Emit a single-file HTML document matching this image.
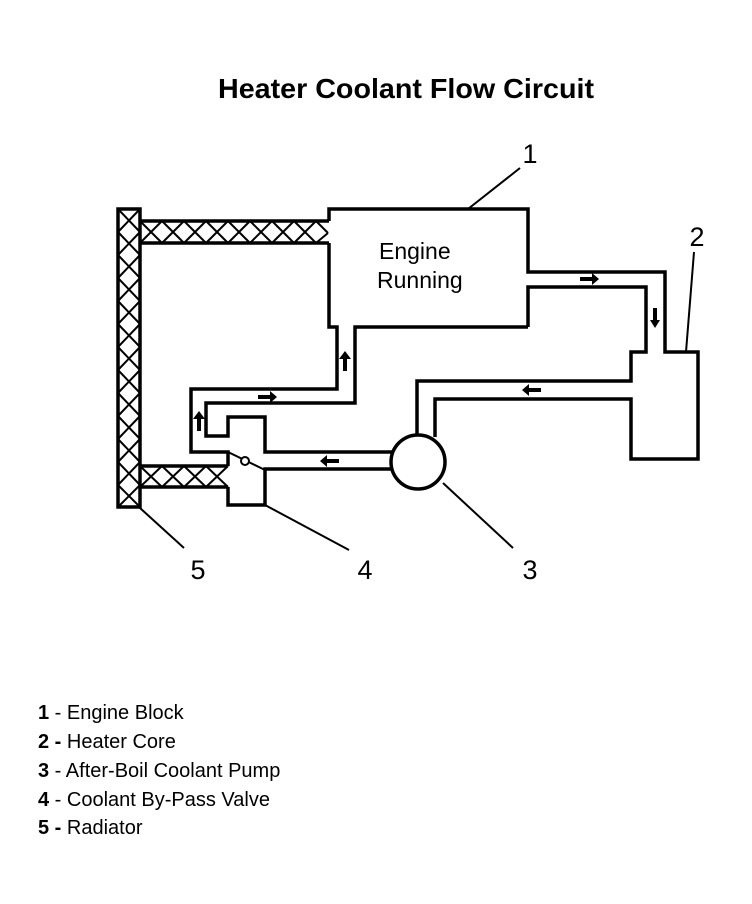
<!DOCTYPE html>
<html><head><meta charset="utf-8"><style>
body{margin:0;background:#fff}
svg{display:block}
text{font-family:"Liberation Sans",Arial,sans-serif;fill:#000}
</style></head><body>
<svg width="752" height="904" viewBox="0 0 752 904" xmlns="http://www.w3.org/2000/svg">
<text x="406" y="98" font-size="28" font-weight="bold" text-anchor="middle" textLength="376" lengthAdjust="spacingAndGlyphs">Heater Coolant Flow Circuit</text>
<g fill="none" stroke="#000" stroke-width="3.5" stroke-linejoin="miter">
<!-- radiator -->
<rect x="118" y="209" width="22" height="298"/>
<path d="M118,209 L140,232 M140,209 L118,232 M118,232 L140,255 M140,232 L118,255 M118,255 L140,278 M140,255 L118,278 M118,278 L140,301 M140,278 L118,301 M118,301 L140,324 M140,301 L118,324 M118,324 L140,347 M140,324 L118,347 M118,347 L140,370 M140,347 L118,370 M118,370 L140,393 M140,370 L118,393 M118,393 L140,416 M140,393 L118,416 M118,416 L140,439 M140,416 L118,439 M118,439 L140,462 M140,439 L118,462 M118,462 L140,485 M140,462 L118,485 M118,485 L140,507 M140,485 L118,507" stroke-width="2"/>
<!-- top hose -->
<path d="M140,221 H329 M140,243 H329"/>
<path d="M140,221 L162,243 M162,221 L140,243 M162,221 L184,243 M184,221 L162,243 M184,221 L206,243 M206,221 L184,243 M206,221 L228,243 M228,221 L206,243 M228,221 L250,243 M250,221 L228,243 M250,221 L272,243 M272,221 L250,243 M272,221 L294,243 M294,221 L272,243 M294,221 L316,243 M316,221 L294,243 M316,221 L328,233 M328,233 L316,243" stroke-width="2"/>
<!-- lower hose -->
<path d="M140,466 H228 M140,487 H228"/>
<path d="M140,466 L162,487 M162,466 L140,487 M162,466 L184,487 M184,466 L162,487 M184,466 L206,487 M206,466 L184,487 M206,466 L228,487 M228,466 L206,487" stroke-width="2"/>
<!-- engine block outline + outer pipe to heater -->
<path d="M329,221 V209 H528 V272 H665 V352 H698 V459 H631 V399 H435 V437"/>
<!-- inner pipe from engine to heater -->
<path d="M528,327 V287 H646 V352 H631 V381 H417 V437"/>
<!-- engine left/bottom & bypass pipes -->
<path d="M329,243 V327 H337 V389 H191 V452 H228 V466"/>
<path d="M528,327 H355 V403 H206 V436 H228 V417 H265 V452 H392"/>
<path d="M228,487 V505 H265 V469 H392"/>
<circle cx="418" cy="462" r="27" fill="#fff"/>
<path d="M228,452 L265,470" stroke-width="2"/>
<circle cx="245" cy="461" r="4" stroke-width="2" fill="#fff"/>
<!-- leader lines -->
<path d="M520,168 L468,209 M694,252 L686,352 M443,483 L513,548 M265,505 L349,550 M140,508 L184,548" stroke-width="2"/>
</g>
<g fill="#000">
<polygon points="258,395 270,395 270,391 277,397 270,403 270,399 258,399"/>
<polygon points="580,277 592,277 592,273 599,279 592,285 592,281 580,281"/>
<polygon points="343,371 343,359 339,359 345,351 351,359 347,359 347,371"/>
<polygon points="197,431 197,419 193,419 199,411 205,419 201,419 201,431"/>
<polygon points="339,459 327,459 327,455 320,461 327,467 327,463 339,463"/>
<polygon points="541,388 529,388 529,384 522,390 529,396 529,392 541,392"/>
<polygon points="653,308 653,320 650,320 655,328 660,320 657,320 657,308"/>
</g>
<text x="379" y="259" font-size="23">Engine</text>
<text x="377" y="288" font-size="23">Running</text>
<text x="530" y="163" font-size="27" text-anchor="middle">1</text>
<text x="697" y="246" font-size="27" text-anchor="middle">2</text>
<text x="530" y="579" font-size="27" text-anchor="middle">3</text>
<text x="365" y="579" font-size="27" text-anchor="middle">4</text>
<text x="198" y="579" font-size="27" text-anchor="middle">5</text>
<g font-size="20">
<text x="38" y="719"><tspan font-weight="bold">1</tspan> - Engine Block</text>
<text x="38" y="748"><tspan font-weight="bold">2 -</tspan> Heater Core</text>
<text x="38" y="777"><tspan font-weight="bold">3</tspan> - After-Boil Coolant Pump</text>
<text x="38" y="806"><tspan font-weight="bold">4</tspan> - Coolant By-Pass Valve</text>
<text x="38" y="834"><tspan font-weight="bold">5 -</tspan> Radiator</text>
</g>
</svg>
</body></html>
